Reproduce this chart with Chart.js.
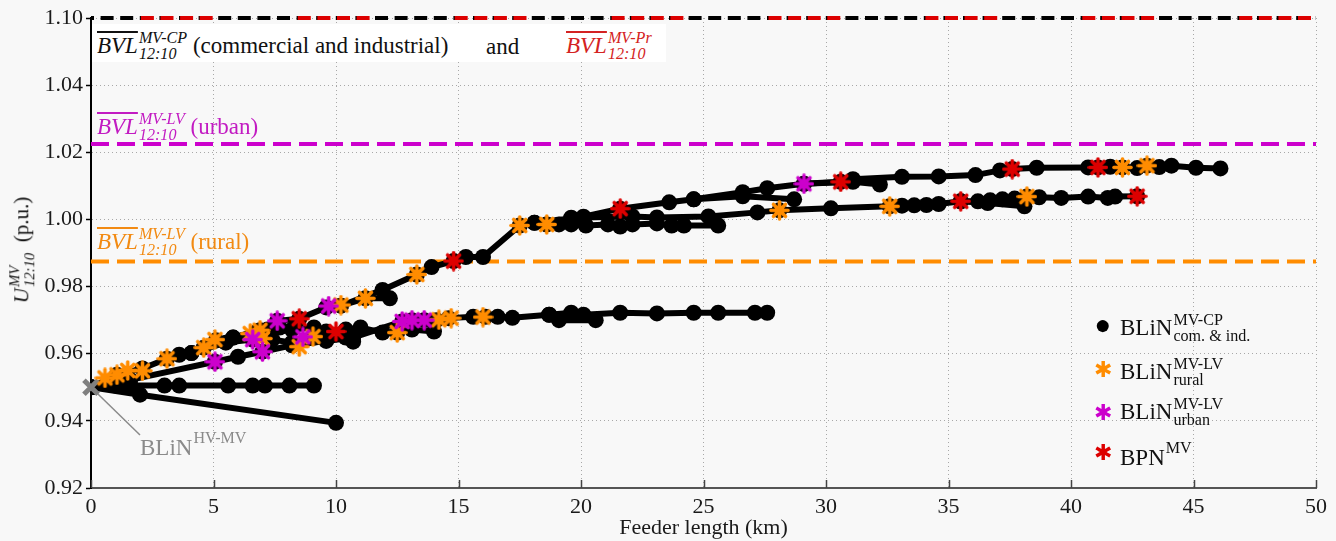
<!DOCTYPE html>
<html>
<head>
<meta charset="utf-8">
<script src="https://cdn.jsdelivr.net/npm/chart.js@4.4.0/dist/chart.umd.min.js"></script>
<style>
  html, body { margin: 0; padding: 0; background: #f8f8f8; }
  #wrap { position: relative; width: 1336px; height: 541px; font-family: "Liberation Serif", "DejaVu Serif", serif; color: #111; }
  #chart { position: absolute; left: 0; top: 0; }
  .lbl { position: absolute; white-space: nowrap; font-size: 23px; line-height: 1; }
  .box { position: absolute; background: #fff; }
  .it { font-style: italic; }
  .ov { text-decoration: overline; }
  .ss { display: inline-flex; flex-direction: column; font-size: 0.7em; line-height: 1; vertical-align: 0.6em; margin-left: 1px; }
  .sup { display: inline-block; font-size: 0.7em; vertical-align: 0.75em; margin-left: 1px; }
  .red { color: #d42222; }
  .mag { color: #c21bc2; }
  .org { color: #f28a12; }
  .gry { color: #8a8a8a; }
  .mk { position: absolute; line-height: 1; transform: translate(-50%, -50%); }
  #ytitle { position: absolute; left: 22px; top: 250px; transform: translate(-50%, -50%) rotate(-90deg); font-size: 21px; white-space: nowrap; line-height: 1; }
</style>
</head>
<body>
<div id="wrap">
  <canvas id="chart" width="1336" height="541"></canvas>

  <div class="box" style="left:92px; top:24px; width:574px; height:38px;"></div>
  <div class="lbl" style="left:97px; top:30px;"><span class="it ov">BVL</span><span class="ss it"><span>MV-CP</span><span>12:10</span></span> (commercial and industrial)</div>
  <div class="lbl" style="left:486px; top:35px;">and</div>
  <div class="lbl red" style="left:566px; top:30px;"><span class="it ov">BVL</span><span class="ss it"><span>MV-Pr</span><span>12:10</span></span></div>

  <div class="lbl mag" style="left:97px; top:111px;"><span class="it ov">BVL</span><span class="ss it"><span>MV-LV</span><span>12:10</span></span> (urban)</div>
  <div class="lbl org" style="left:97px; top:226px;"><span class="it ov">BVL</span><span class="ss it"><span>MV-LV</span><span>12:10</span></span> (rural)</div>

  <div class="lbl gry" style="left:140px; top:430px;">BLiN<span class="sup">HV-MV</span></div>

  <div class="mk" style="left:1103px; top:325px; color:#000; font-size:28px;">&#9679;</div>
  <div class="lbl" style="left:1120px; top:312px;">BLiN<span class="ss"><span>MV-CP</span><span>com. &amp; ind.</span></span></div>
  <div class="mk" style="left:1103px; top:370px; color:#ff8c00; font-size:22px;">&#10033;</div>
  <div class="lbl" style="left:1120px; top:356px;">BLiN<span class="ss"><span>MV-LV</span><span>rural</span></span></div>
  <div class="mk" style="left:1103px; top:413px; color:#cc00cc; font-size:22px;">&#10033;</div>
  <div class="lbl" style="left:1120px; top:396px;">BLiN<span class="ss"><span>MV-LV</span><span>urban</span></span></div>
  <div class="mk" style="left:1103px; top:453px; color:#dd0000; font-size:22px;">&#10033;</div>
  <div class="lbl" style="left:1120px; top:440px;">BPN<span class="sup">MV</span></div>

  <div id="ytitle"><span class="it">U</span><span class="ss it"><span>MV</span><span>12:10</span></span>&nbsp;&nbsp;(p.u.)</div>
</div>

<script>
// Axis ranges / tick labels (top gridline is a broken-axis position labelled 1.10)
const xRange = [0, 50];
const xStep = 5;
const yRange = [0.92, 1.06];
const yStep = 0.02;
const yTickLabels = ['0.92', '0.94', '0.96', '0.98', '1.00', '1.02', '1.04', '1.10'];

// Voltage limits (BVL)
const bvlTopLevel = 1.06;   // drawn at axis top, labelled 1.10
const bvlUrban = 1.0225;
const bvlRural = 0.9875;

// HV-MV substation
const substation = [[0, 0.950]];

// Feeders: [km, p.u.]
const feederMain = [[0,0.950],[1.06,0.9537],[2.1,0.9556],[3.1,0.9585],[3.6,0.9597],[4.1,0.9602],[4.6,0.9618],[5.1,0.9640],[5.8,0.9648],[6.9,0.9670],[7.6,0.9698],[8.5,0.9704],[9.6,0.9738],[10.2,0.9743],[11.9,0.9790],[13.3,0.9836],[13.9,0.9858],[14.8,0.9876],[15.3,0.9888],[16.0,0.9888],[17.5,0.9982],[18.1,0.9990],[19.6,1.0003],[20.1,1.0008],[21.6,1.0032],[23.6,1.0051],[24.6,1.0060],[26.6,1.0081],[27.6,1.0093],[29.1,1.0106],[30.6,1.0112],[31.1,1.0120],[33.1,1.0127],[34.6,1.0128],[36.1,1.0132],[37.1,1.0146],[37.6,1.0150],[38.6,1.0154],[40.7,1.0155],[41.1,1.0155],[41.6,1.0157],[42.1,1.0155],[42.7,1.0153],[43.1,1.0160],[43.6,1.0156],[44.1,1.0160],[45.1,1.0154],[46.1,1.0152]];
const feederShort = [[10.2,0.9743],[11.2,0.9765],[12.2,0.9765]];
const feederFlat100 = [[18.1,0.9990],[18.6,0.9985],[19.1,0.9985],[19.6,0.9985],[20.2,0.9982],[21.1,0.9985],[21.6,0.9979],[22.1,0.9985],[23.1,0.9988],[23.7,0.9982],[24.2,0.9982],[25.6,0.9982]];
const feederLong = [[18.6,0.9985],[19.6,1.0005],[22.1,1.0009],[23.1,1.0006],[25.2,1.0009],[27.2,1.0021],[28.1,1.0027],[30.2,1.0033],[32.6,1.0039],[33.1,1.0041],[33.6,1.0042],[34.1,1.0043],[34.6,1.0046],[35.5,1.0054],[36.2,1.0054],[36.7,1.0057],[37.2,1.0060],[37.7,1.0062],[38.2,1.0068],[38.7,1.0066],[39.6,1.0064],[40.7,1.0068],[41.5,1.0064],[41.8,1.0068],[42.7,1.0069]];
const feederLongBranch = [[35.5,1.0054],[36.6,1.0049],[38.1,1.0039]];
const feederTopBranch1 = [[24.6,1.0060],[26.6,1.0069],[28.7,1.0060]];
const feederTopBranch2 = [[29.1,1.0106],[31.1,1.0112],[32.2,1.0104]];
const feeder097 = [[0,0.950],[1.1,0.9507],[1.6,0.9522],[5.06,0.9576],[6.0,0.9591],[7.0,0.9606],[8.2,0.9625],[9.6,0.9638],[10.7,0.9648],[12.7,0.9696],[13.1,0.9700],[13.6,0.9700],[14.1,0.9700],[14.6,0.9706],[15.6,0.9710],[16.1,0.9710],[16.6,0.9710],[17.2,0.9707],[18.7,0.9716],[19.6,0.9722],[20.1,0.9716],[21.6,0.9722],[23.1,0.9720],[24.6,0.9722],[25.6,0.9722],[27.1,0.9722],[27.6,0.9722]];
const feeder097Branch = [[18.7,0.9716],[19.1,0.9700],[20.6,0.9700]];
const feeder0967 = [[5.8,0.9648],[6.8,0.9667],[7.2,0.9672],[7.7,0.9678],[8.2,0.9672],[9.1,0.9678],[9.6,0.9666],[10.4,0.9672],[11.0,0.9678],[11.9,0.9663],[12.5,0.9663],[13.1,0.9672],[14.0,0.9666]];
const feeder0964 = [[4.1,0.9602],[5.5,0.9633],[6.6,0.9642],[7.4,0.9642],[8.2,0.9633],[9.1,0.9648],[9.6,0.9642],[10.4,0.9648],[10.7,0.9636]];
const feeder0950 = [[0,0.950],[1.0,0.9505],[1.6,0.9505],[3.0,0.9505],[3.6,0.9505],[5.6,0.9505],[6.6,0.9505],[7.1,0.9505],[8.1,0.9505],[9.1,0.9505]];
const feederDown = [[0,0.950],[2.0,0.9478],[10.0,0.9394]];

const feeders = [feederMain, feederShort, feederFlat100, feederLong, feederLongBranch, feederTopBranch1,
  feederTopBranch2, feeder097, feeder097Branch, feeder0967, feeder0964, feeder0950, feederDown];

// Special nodes
const ruralNodes = [[0.57,0.9528],[1.06,0.9537],[1.5,0.9550],[2.1,0.9549],[3.1,0.9585],[4.6,0.9618],[5.06,0.9642],[6.5,0.9660],[6.9,0.9670],[7.0,0.9645],[8.5,0.9621],[9.06,0.9651],[10.2,0.9745],[11.2,0.9765],[12.5,0.9663],[13.3,0.9836],[14.2,0.9701],[14.7,0.9706],[16.0,0.9709],[17.5,0.9982],[18.6,0.9985],[28.1,1.0027],[32.6,1.0039],[38.2,1.0068],[42.1,1.0155],[43.1,1.0160]];
const urbanNodes = [[5.06,0.9576],[6.6,0.9642],[7.0,0.9606],[7.6,0.9698],[8.65,0.9650],[9.7,0.9742],[12.7,0.9696],[13.1,0.9700],[13.6,0.9700],[29.1,1.0106]];
const bpnNodes = [[8.5,0.9704],[10.0,0.9666],[14.8,0.9876],[21.6,1.0032],[30.6,1.0112],[35.5,1.0054],[37.6,1.0150],[41.1,1.0155],[42.7,1.0069]];

// label leader for BLiN HV-MV
const leaderLine = [[0, 0.950], [2.0, 0.9358]];

const ORANGE = '#ff8c00';
const MAGENTA = '#cc00cc';
const RED = '#dd0000';

const toXY = arr => arr.map(p => ({x: p[0], y: p[1]}));

function makeStar(color, r) {
    const c = document.createElement('canvas');
    const s = Math.ceil(r * 2 + 4);
    c.width = s; c.height = s;
    const g = c.getContext('2d');
    g.translate(s / 2, s / 2);
    g.strokeStyle = color;
    g.lineWidth = 3.6;
    g.lineCap = 'round';
    for (let i = 0; i < 4; i++) {
        const a = i * Math.PI / 4;
        g.beginPath();
        g.moveTo(-r * Math.cos(a), -r * Math.sin(a));
        g.lineTo(r * Math.cos(a), r * Math.sin(a));
        g.stroke();
    }
    g.fillStyle = color;
    g.beginPath();
    g.arc(0, 0, r * 0.6, 0, Math.PI * 2);
    g.fill();
    return c;
}

function markerSet(data, color) {
    return {
        data: toXY(data),
        showLine: false,
        pointStyle: makeStar(color, 8.5),
        pointRadius: 9,
        order: 0,
        clip: false
    };
}

function hLine(level, color, width, dash, offset) {
    return {
        data: [{x: xRange[0], y: level}, {x: xRange[1], y: level}],
        showLine: true,
        borderColor: color,
        borderWidth: width,
        borderDash: dash,
        borderDashOffset: offset || 0,
        pointRadius: 0,
        order: 2,
        clip: false
    };
}

// Inward tick marks on the x axis
const innerTicks = {
    id: 'innerTicks',
    afterDraw(chart) {
        const {ctx, scales: {x}, chartArea} = chart;
        ctx.save();
        ctx.strokeStyle = '#444';
        ctx.lineWidth = 1.5;
        x.ticks.forEach(t => {
            const px = Math.round(x.getPixelForValue(t.value)) + 0.5;
            ctx.beginPath();
            ctx.moveTo(px, chartArea.bottom);
            ctx.lineTo(px, chartArea.bottom - 8);
            ctx.stroke();
        });
        ctx.restore();
    }
};

document.addEventListener('DOMContentLoaded', function() {
    const datasets = [];

    datasets.push(markerSet(bpnNodes, RED));
    datasets.push(markerSet(urbanNodes, MAGENTA));
    datasets.push(markerSet(ruralNodes, ORANGE));
    datasets.push({
        data: toXY(substation),
        showLine: false,
        pointStyle: 'crossRot',
        pointRadius: 10,
        borderColor: '#808080',
        pointBorderWidth: 5,
        order: 0,
        clip: false
    });

    feeders.forEach(f => {
        datasets.push({
            data: toXY(f),
            showLine: true,
            borderColor: '#000',
            borderWidth: 6,
            pointRadius: 8,
            pointBackgroundColor: '#000',
            pointBorderWidth: 0,
            order: 1
        });
    });

    // top limit: black dashes with red groups over them
    datasets.push(hLine(bvlTopLevel, RED, 4, [13, 6.6, 13, 6.6, 13, 6.6, 13, 85.1], 107));
    datasets.push(Object.assign(hLine(bvlTopLevel, '#000', 4, [13, 6.6], 10), {order: 3}));
    datasets.push(hLine(bvlUrban, MAGENTA, 4, [18, 8], 0));
    datasets.push(hLine(bvlRural, ORANGE, 4, [18, 8], 0));
    datasets.push({
        data: toXY(leaderLine),
        showLine: true,
        borderColor: '#8a8a8a',
        borderWidth: 1.5,
        pointRadius: 0,
        order: 4,
        clip: false
    });

    new Chart(document.getElementById('chart').getContext('2d'), {
        type: 'scatter',
        data: { datasets: datasets },
        plugins: [innerTicks],
        options: {
            responsive: false,
            animation: false,
            devicePixelRatio: 1,
            layout: { padding: { left: 0, right: 20, top: 18, bottom: 0 } },
            plugins: {
                legend: { display: false },
                tooltip: { enabled: false }
            },
            scales: {
                x: {
                    type: 'linear',
                    min: xRange[0],
                    max: xRange[1],
                    afterFit: s => { s.height = 53; },
                    ticks: {
                        stepSize: xStep,
                        padding: 6,
                        color: '#1a1a1a',
                        font: { family: 'Liberation Serif', size: 22 }
                    },
                    grid: { color: '#a8a8a8', lineWidth: 1, drawTicks: false },
                    border: { display: true, color: '#555', width: 2, dash: [1, 3] },
                    title: {
                        display: true,
                        text: 'Feeder length (km)',
                        color: '#1a1a1a',
                        padding: { top: 0, bottom: 0 },
                        font: { family: 'Liberation Serif', size: 22 }
                    }
                },
                y: {
                    type: 'linear',
                    min: yRange[0],
                    max: yRange[1],
                    afterFit: s => { s.width = 91; },
                    ticks: {
                        stepSize: yStep,
                        padding: 3,
                        color: '#1a1a1a',
                        font: { family: 'Liberation Serif', size: 22 },
                        callback: (v, i) => yTickLabels[i]
                    },
                    grid: { color: '#a8a8a8', lineWidth: 1, tickLength: 5, tickColor: '#000', tickWidth: 1.5 },
                    border: { display: true, color: '#000', width: 2, dash: [1, 3] }
                }
            }
        }
    });
});
</script>
</body>
</html>
